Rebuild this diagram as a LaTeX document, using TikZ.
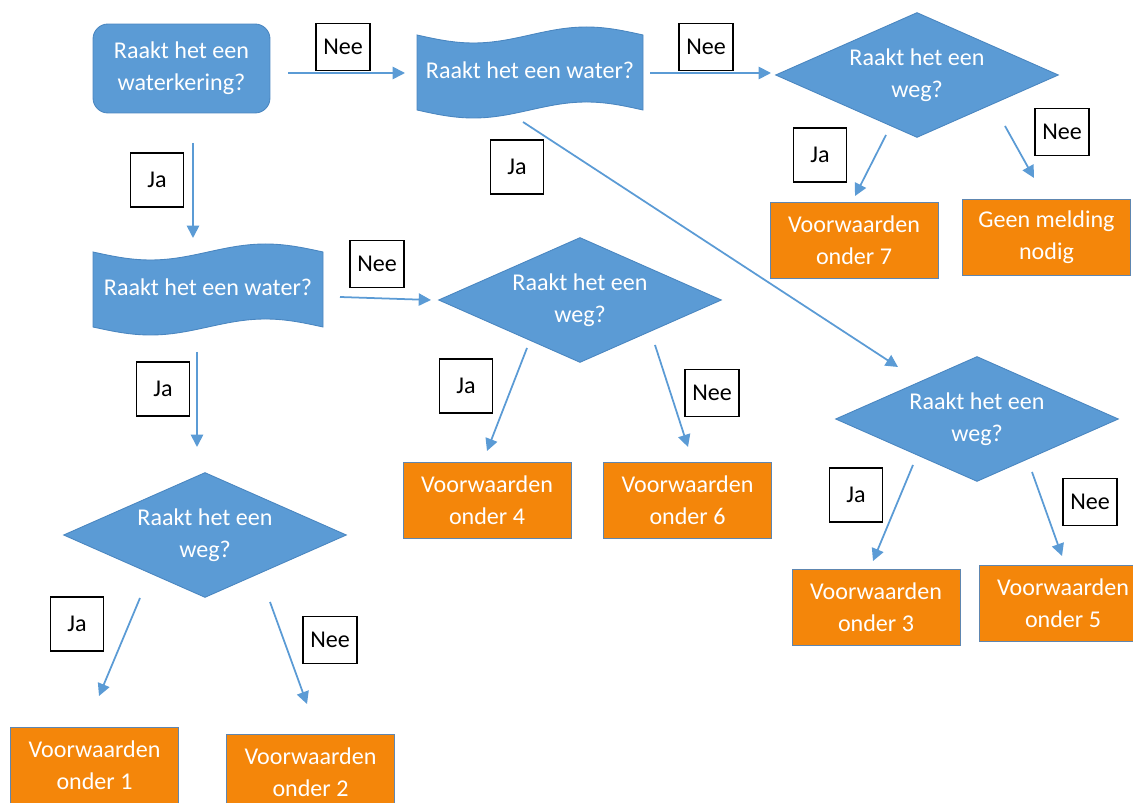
\documentclass[tikz,border=0pt]{standalone}
\usepackage{fontspec}
\setmainfont{Carlito}
\usetikzlibrary{shapes.geometric,arrows.meta}
\definecolor{shapeblue}{HTML}{5B9BD5}
\definecolor{shapeedge}{HTML}{4A86C0}
\definecolor{boxorange}{HTML}{F4860A}
\definecolor{orangeedge}{HTML}{5E86B0}
\tikzset{
  txt/.style={font=\fontsize{13.7}{18.2}\selectfont, align=center},
  blueshape/.style={fill=shapeblue, draw=shapeedge, line width=0.5pt},
  qtext/.style={txt, text=white},
  decide/.style={qtext, blueshape, diamond, aspect=2.26, inner sep=0pt, minimum width=5.66cm, minimum height=2.5cm},
  startbox/.style={qtext, blueshape, rectangle, rounded corners=0.3cm, minimum width=3.54cm, minimum height=1.78cm},
  resultbox/.style={qtext, fill=boxorange, draw=orangeedge, line width=0.5pt, rectangle, minimum width=3.36cm, minimum height=1.52cm},
  jabox/.style={txt, text=black, draw=black, line width=0.6pt, fill=white, minimum width=1.06cm, minimum height=1.08cm, inner sep=0pt},
  neebox/.style={txt, text=black, draw=black, line width=0.6pt, fill=white, minimum width=1.08cm, minimum height=0.94cm, inner sep=0pt},
  arr/.style={draw=shapeblue, line width=1pt, -{Triangle[length=7pt,width=7pt]}}
}
\begin{document}
\begin{tikzpicture}[x=0.02cm, y=-0.02cm]
\useasboundingbox (0,0) rectangle (1133,803);
\clip (0,0) rectangle (1133,803);

% start box
\node[startbox] (wk) at (181.5,68.5) {Raakt het een\\waterkering?};

% punched tapes
\path[blueshape] (417,35) sin (473.5,43) cos (530,35) sin (586.5,27) cos (643,35)
  -- (643,110) sin (586.5,102) cos (530,110) sin (473.5,118) cos (417,110) -- cycle;
\node[qtext] (t1) at (530,70) {Raakt het een water?};
\path[blueshape] (93,252) sin (150.5,260) cos (208,252) sin (265.5,244) cos (323,252)
  -- (323,327) sin (265.5,319) cos (208,327) sin (150.5,335) cos (93,327) -- cycle;
\node[qtext] (t2) at (208,287) {Raakt het een water?};

% decisions
\node[decide] (d1) at (917,75) {Raakt het een\\weg?};
\node[decide] (d2) at (580,300) {Raakt het een\\weg?};
\node[decide] (d3) at (977,419) {Raakt het een\\weg?};
\node[decide] (d4) at (205,535) {Raakt het een\\weg?};

% results
\node[resultbox] (v7) at (854,240) {Voorwaarden\\onder 7};
\node[resultbox] (geen) at (1046.5,237) {Geen melding\\nodig};
\node[resultbox] (v4) at (487,500) {Voorwaarden\\onder 4};
\node[resultbox] (v6) at (687.5,500) {Voorwaarden\\onder 6};
\node[resultbox] (v3) at (876,607) {Voorwaarden\\onder 3};
\node[resultbox] (v5) at (1063,603.5) {Voorwaarden\\onder 5};
\node[resultbox] (v1) at (94.5,765.5) {Voorwaarden\\onder 1};
\node[resultbox] (v2) at (310.5,772) {Voorwaarden\\onder 2};

% arrow end points
\coordinate (a1s) at (288,73);  \coordinate (a1e) at (405,73);
\coordinate (a2s) at (650,73);  \coordinate (a2e) at (771,73);
\coordinate (a3s) at (523,122); \coordinate (a3e) at (898,367);
\coordinate (a4s) at (193,143); \coordinate (a4e) at (193,238);
\coordinate (a5s) at (340,297); \coordinate (a5e) at (431,300);
\coordinate (a6s) at (197,352); \coordinate (a6e) at (197,447);
\coordinate (b1s) at (886,135); \coordinate (b1e) at (855,196);
\coordinate (b2s) at (1005,126);\coordinate (b2e) at (1034,178);
\coordinate (c1s) at (527,348); \coordinate (c1e) at (487,451);
\coordinate (c2s) at (655,345); \coordinate (c2e) at (688,447);
\coordinate (e1s) at (913,465); \coordinate (e1e) at (873,561);
\coordinate (e2s) at (1032,472);\coordinate (e2e) at (1062,556);
\coordinate (f1s) at (140,598); \coordinate (f1e) at (99,696);
\coordinate (f2s) at (270,602); \coordinate (f2e) at (307,704);

\draw[arr] (a1s) -- (a1e);
\draw[arr] (a2s) -- (a2e);
\draw[arr] (a3s) -- (a3e);
\draw[arr] (a4s) -- (a4e);
\draw[arr] (a5s) -- (a5e);
\draw[arr] (a6s) -- (a6e);
\draw[arr] (b1s) -- (b1e);
\draw[arr] (b2s) -- (b2e);
\draw[arr] (c1s) -- (c1e);
\draw[arr] (c2s) -- (c2e);
\draw[arr] (e1s) -- (e1e);
\draw[arr] (e2s) -- (e2e);
\draw[arr] (f1s) -- (f1e);
\draw[arr] (f2s) -- (f2e);

% labels
\node[neebox] (l1) at (343,47) {Nee};
\node[neebox] (l2) at (706,47) {Nee};
\node[jabox]  (l3) at (820,155) {Ja};
\node[neebox] (l4) at (1062,132) {Nee};
\node[jabox]  (l5) at (157,180) {Ja};
\node[jabox]  (l6) at (517,167) {Ja};
\node[neebox] (l7) at (377,264) {Nee};
\node[jabox]  (l8) at (163,389) {Ja};
\node[jabox]  (l9) at (466,386) {Ja};
\node[neebox] (l10) at (712,393) {Nee};
\node[jabox]  (l11) at (856,495) {Ja};
\node[neebox] (l12) at (1090,502) {Nee};
\node[jabox]  (l13) at (77,624) {Ja};
\node[neebox] (l14) at (330,640) {Nee};
\end{tikzpicture}
\end{document}
